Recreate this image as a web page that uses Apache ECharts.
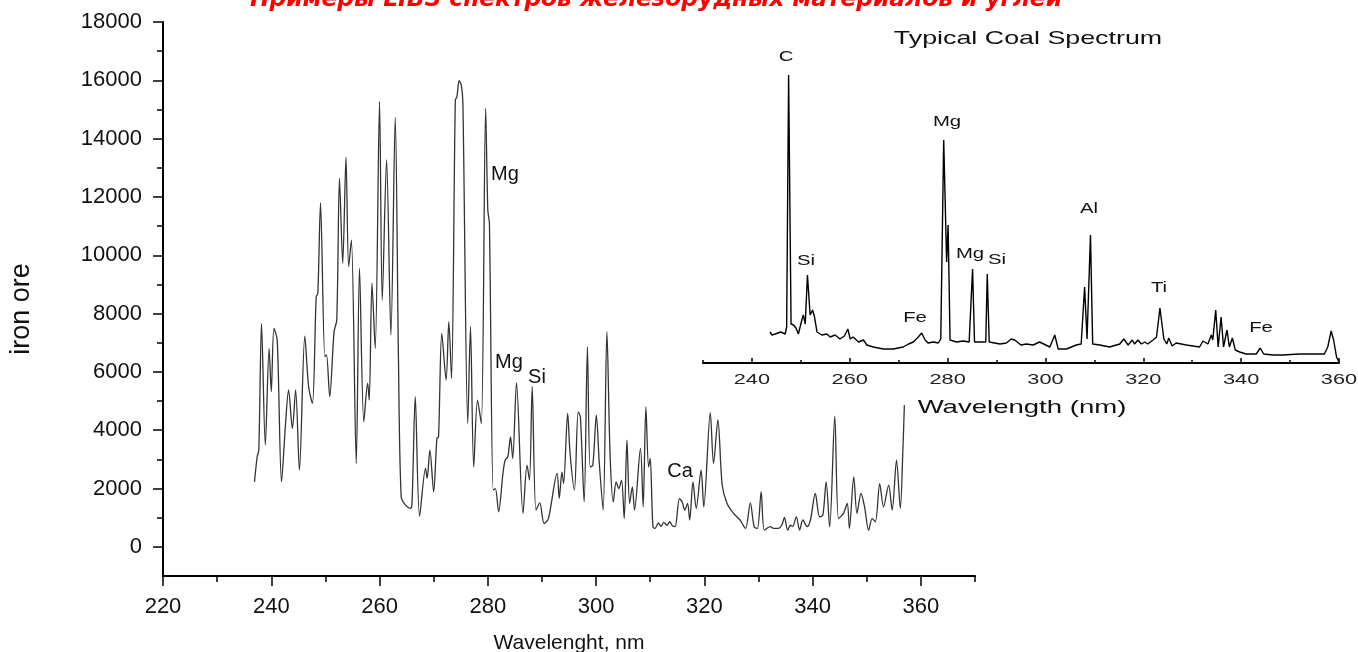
<!DOCTYPE html>
<html><head><meta charset="utf-8">
<script src="https://cdn.jsdelivr.net/npm/echarts@6/dist/echarts.min.js"></script>
<style>html,body{margin:0;padding:0;background:#fff}#c{width:1358px;height:652px}</style>
</head><body><div id="c"></div>
<script>
// ---- Data: iron ore LIBS spectrum (main plot) ----
const ironWl = [236.9,237.4,237.7,238.2,238.9,239.6,240.0,240.5,241.1,241.9,242.6,243.2,243.9,244.5,245.2,246.2,246.9,247.6,248.3,248.6,249.1,249.9,250.2,250.8,251.6,252.1,252.6,253.2,253.8,254.3,254.8,255.7,256.3,257.1,257.8,258.1,258.6,259.2,260.0,260.5,261.3,262.1,262.9,263.5,264.0,264.8,265.7,266.0,266.6,267.4,268.5,268.8,269.3,270.0,270.6,270.9,271.5,272.3,272.8,273.3,274.0,274.3,274.7,275.1,275.4,276.3,276.8,277.4,278.1,278.8,279.6,280.0,280.3,281.0,281.4,282.0,282.8,283.2,283.7,284.2,284.6,285.3,286.5,287.25,287.7,288.2,288.9,289.6,290.4,291.2,292.8,293.2,293.7,294.0,294.75,295.2,296.0,296.7,297.1,297.8,298.4,298.9,299.4,300.05,300.6,301.3,302.0,302.6,303.2,303.7,304.2,304.7,305.2,305.7,306.2,306.7,307.1,308.2,308.7,309.2,309.7,310.0,310.5,310.9,311.5,312.0,312.5,313.1,313.6,314.1,314.6,315.4,315.9,316.4,316.9,317.3,317.9,318.5,319.4,319.9,321.1,321.7,322.5,323.3,324.2,325.4,326.6,327.6,328.5,329.2,329.8,330.5,331.1,332.2,332.8,333.7,334.3,334.8,335.4,335.9,336.3,337.0,337.6,338.2,339.0,339.6,340.5,341.3,341.9,342.5,343.15,344.1,344.8,345.7,346.4,346.8,347.6,348.2,348.95,349.6,350.35,351.0,351.6,352.4,353.1,354.05,354.7,355.5,356.2,356.7,356.95];
const ironVal = [2230,3090,3320,7660,3490,6800,5320,7490,7090,2230,4120,5380,4060,5380,2630,7230,5490,4920,8580,8690,11800,6520,6580,5150,7380,7780,12640,9720,13360,9610,10520,2860,9550,4290,5610,5030,9040,6810,15270,8460,13270,7260,14730,6400,1720,1430,1320,1490,5150,1050,2690,2350,3320,1890,3720,3770,7320,5720,7720,5780,15320,15440,15990,15840,15210,4230,7550,2740,5030,4230,15040,11550,11090,1950,2000,1200,2520,2970,3090,3770,3030,5630,1150,2800,2290,5490,1260,1510,800,970,2520,1660,2570,2170,4580,3200,1950,4630,4460,1540,6860,2740,2800,4520,2860,1260,7380,3090,1540,2230,2000,2290,970,3660,1490,2060,1260,3380,1370,4800,2740,3030,690,630,820,700,840,740,860,720,690,1660,1540,1260,1490,920,2230,1320,2630,1370,4600,2860,4350,2120,1490,1150,920,630,1510,690,630,1890,570,690,630,630,740,1010,570,740,690,1030,570,920,690,920,1830,1030,1090,2230,690,4480,970,1150,1490,630,2400,1150,1830,1370,570,970,860,2170,1370,2120,1260,2970,1320,3430,4860];

// ---- Data: typical coal spectrum (inset), relative intensity ----
const coalWl = [243.7,244.1,244.75,245.9,246.8,247.1,247.5,247.7,248.0,248.5,249.0,249.5,250.2,250.5,250.9,251.35,251.9,252.4,252.8,253.3,254.3,255.3,256.0,257.0,258.0,258.9,259.6,260.1,260.7,261.8,262.8,263.5,264.8,266.9,268.9,270.9,272.0,273.0,274.0,274.7,275.4,276.0,277.1,278.1,278.6,279.2,279.8,280.1,280.5,281.8,283.2,284.4,284.7,285.1,285.5,286.9,287.8,288.1,288.5,290.7,292.0,293.0,293.7,295.0,296.1,297.5,298.8,300.9,301.9,302.6,304.3,306.3,307.3,308.0,308.5,309.2,309.65,311.1,313.1,315.2,316.0,316.9,317.75,318.2,318.9,319.6,320.3,320.9,322.0,322.7,323.4,324.2,324.8,325.2,325.9,326.7,328.8,331.5,332.2,333.2,333.9,334.2,334.8,335.3,335.9,336.4,337.1,337.6,338.2,338.8,339.7,341.0,343.1,343.9,344.6,346.5,348.5,351.9,355.3,357.0,357.7,358.4,358.9,359.5,360.0];
const coalVal = [31,28,29,31,29,36,288,288,39,38,35,29,43,48,39,88,48,53,46,31,28,29,26,28,24,27,34,24,26,21,23,18,16,14,14,16,19,21,26,30,23,20,21,20,24,223,101,138,23,21,22,21,21,94,21,21,21,89,21,19,20,24,23,18,19,18,21,16,28,14,14,18,19,76,24,128,19,18,16,19,24,18,23,19,23,19,21,19,23,26,55,24,19,25,17,20,18,16,22,19,28,23,53,16,46,16,33,16,25,13,11,9,9,15,9,8,8,9,9,9,16,32,23,6,1];

// ---- Tick values and labels ----
const mainXLabels = [220,240,260,280,300,320,340,360];
const mainXMinor = [230,250,270,290,310,330,350,370];
const mainYLabels = [0,2000,4000,6000,8000,10000,12000,14000,16000,18000];
const mainYMinor = [1000,3000,5000,7000,9000,11000,13000,15000,17000];
const insetXLabels = [240,260,280,300,320,340,360];
const insetXMinor = [230,250,270,290,310,330,350];

const titleText = 'Примеры LIBS спектров железорудных материалов и углей';
const insetTitle = 'Typical Coal Spectrum';
const insetXName = 'Wavelength (nm)';
const mainXName = 'Wavelenght, nm';
const mainYName = 'iron ore';

const FONT = '"Liberation Sans", Arial, sans-serif';
const chart = echarts.init(document.getElementById('c'));

const blackLine = {color:'#000', width:2};
const tickStyle = {color:'#000', width:1.5};
const plain = v => String(v);

const option = {
  animation: false,
  backgroundColor: '#fff',
  grid: [
    {left:163, right:383, top:22, bottom:76, containLabel:false, outerBoundsMode:'none'},
    {left:703, right:19, top:63, bottom:289, containLabel:false, outerBoundsMode:'none'}
  ],
  xAxis: [
    {gridIndex:0, type:'value', min:220, max:370, position:'bottom',
     axisLine:{show:true, onZero:false, lineStyle:blackLine},
     axisTick:{show:true, customValues:mainXLabels, length:10, lineStyle:tickStyle},
     axisLabel:{customValues:mainXLabels, formatter:plain, margin:20, fontSize:22, color:'#111', fontFamily:FONT},
     splitLine:{show:false},
     name:mainXName, nameLocation:'middle', nameGap:57,
     nameTextStyle:{fontSize:21, color:'#111', fontFamily:FONT}},
    {gridIndex:0, type:'value', min:220, max:370, position:'bottom',
     axisLine:{show:false, onZero:false},
     axisTick:{show:true, customValues:mainXMinor, length:6, lineStyle:tickStyle},
     axisLabel:{show:false}, splitLine:{show:false}},
    {gridIndex:1, type:'value', min:230, max:360, position:'bottom',
     axisLine:{show:true, onZero:false, lineStyle:blackLine},
     axisTick:{show:true, inside:true, customValues:insetXLabels, length:5, lineStyle:tickStyle},
     axisLabel:{show:false}, splitLine:{show:false}},
    {gridIndex:1, type:'value', min:230, max:360, position:'bottom',
     axisLine:{show:false, onZero:false},
     axisTick:{show:true, inside:true, customValues:insetXMinor, length:3, lineStyle:tickStyle},
     axisLabel:{show:false}, splitLine:{show:false}}
  ],
  yAxis: [
    {gridIndex:0, type:'value', min:-1000, max:18000, position:'left',
     axisLine:{show:true, onZero:false, lineStyle:blackLine},
     axisTick:{show:true, customValues:mainYLabels, length:10, lineStyle:tickStyle},
     axisLabel:{customValues:mainYLabels, formatter:plain, margin:21, fontSize:22, color:'#111', fontFamily:FONT},
     splitLine:{show:false}},
    {gridIndex:0, type:'value', min:-1000, max:18000, position:'left',
     axisLine:{show:false, onZero:false},
     axisTick:{show:true, customValues:mainYMinor, length:6, lineStyle:tickStyle},
     axisLabel:{show:false}, splitLine:{show:false}},
    {gridIndex:1, type:'value', min:0, max:300, show:false, splitLine:{show:false}}
  ],
  series: [
    {type:'line', xAxisIndex:0, yAxisIndex:0, symbol:'none', silent:true, smooth:0.3,
     data: ironWl.map((w,i)=>[w, ironVal[i]]),
     lineStyle:{color:'#333', width:1.3}},
    {type:'line', xAxisIndex:2, yAxisIndex:2, symbol:'none', silent:true,
     data: coalWl.map((w,i)=>[w, coalVal[i]]),
     lineStyle:{color:'#000', width:1.4}}
  ]
};
chart.setOption(option);

function txt(text, x, y, size, opts) {
  opts = opts || {};
  return {type:'text', x:x, y:y, rotation:opts.rotation||0, scaleX:opts.scaleX||1, silent:true,
    style:{text:text, fontSize:size, fontFamily:opts.family||FONT, fontWeight:opts.weight||'normal',
      fontStyle:opts.style||'normal', fill:opts.fill||'#111', align:'center', verticalAlign:'middle'}};
}
const SX = 1.45;
const graphics = [
  txt(titleText, 656, 0, 23.3, {family:'"DejaVu Sans", sans-serif', weight:'bold', style:'italic', fill:'#ff0000'}),
  txt(mainYName, 21.5, 309, 27, {rotation:Math.PI/2}),
  txt('Mg', 505, 174, 20),
  txt('Mg', 509, 362, 20),
  txt('Si', 537, 377, 20),
  txt('Ca', 680, 471, 20),
  txt(insetTitle, 1028, 39, 18.5, {scaleX:SX}),
  txt(insetXName, 1022, 408, 19, {scaleX:SX}),
  txt('C', 786, 57, 14, {scaleX:SX}),
  txt('Si', 806, 261, 14, {scaleX:SX}),
  txt('Fe', 915, 318, 14, {scaleX:SX}),
  txt('Mg', 947, 122, 14, {scaleX:SX}),
  txt('Mg', 970, 254, 14, {scaleX:SX}),
  txt('Si', 997, 260, 14, {scaleX:SX}),
  txt('Al', 1089, 209, 14, {scaleX:SX}),
  txt('Ti', 1159, 288, 14, {scaleX:SX}),
  txt('Fe', 1261, 328, 14, {scaleX:SX})
];
insetXLabels.forEach(v => {
  const px = chart.convertToPixel({xAxisIndex:2}, v);
  graphics.push(txt(String(v), px, 380, 15, {scaleX:SX, fill:'#222'}));
});
chart.setOption({graphic: graphics});
</script>
</body></html>
